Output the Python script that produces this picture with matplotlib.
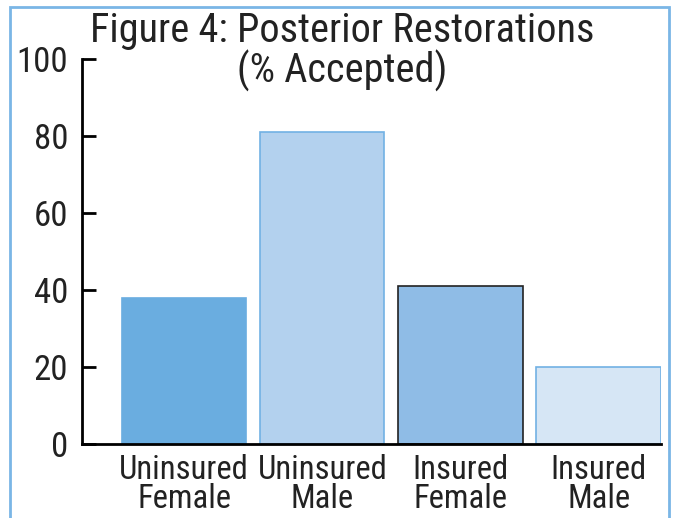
import matplotlib
matplotlib.use("Agg")
import matplotlib.pyplot as plt
from matplotlib.patches import Rectangle
import numpy as np

# values
categories = ["Uninsured\nFemale", "Uninsured\nMale", "Insured\nFemale", "Insured\nMale"]
accepted = [38, 81, 41, 20]
yticks = [0, 20, 40, 60, 80, 100]

fill_colors = ["#6aade0", "#b3d1ee", "#8fbce6", "#d6e6f5"]
edge_colors = ["#6aade0", "#72b1e4", "#222222", "#72b1e4"]

plt.rcParams['font.family'] = ['Roboto Condensed', 'DejaVu Sans']

fig = plt.figure(figsize=(6.77, 5.18), dpi=100)
ax = fig.add_axes([0.121, 0.143, 0.855, 0.743])

x = np.arange(len(categories))
ax.bar(x, accepted, width=0.9, color=fill_colors, edgecolor=edge_colors, linewidth=1.2)

ax.set_ylim(0, 100)
ax.set_xlim(-0.74, 3.45)
ax.set_yticks(yticks)
ax.set_xticks(x)
ax.set_xticklabels(categories, fontsize=23.5, linespacing=0.9, color="#222222")
ax.tick_params(axis='y', direction='in', length=10, width=2, labelsize=25, pad=10,
               labelcolor="#222222")
ax.tick_params(axis='x', length=0, pad=7)

for s in ['top', 'right']:
    ax.spines[s].set_visible(False)
ax.spines['left'].set_linewidth(2)
ax.spines['bottom'].set_linewidth(2)

fig.text(0.505, 0.978, "Figure 4: Posterior Restorations\n(% Accepted)",
         ha='center', va='top', fontsize=29, linespacing=0.98, color="#222222")

# light blue frame around the whole figure
fig.patches.append(Rectangle((10/677, -0.05), 659/677, 1 - 7/518 + 0.05,
                             transform=fig.transFigure, fill=False,
                             edgecolor="#7ab6e6", linewidth=2))

fig.savefig("out.png", dpi=100)
